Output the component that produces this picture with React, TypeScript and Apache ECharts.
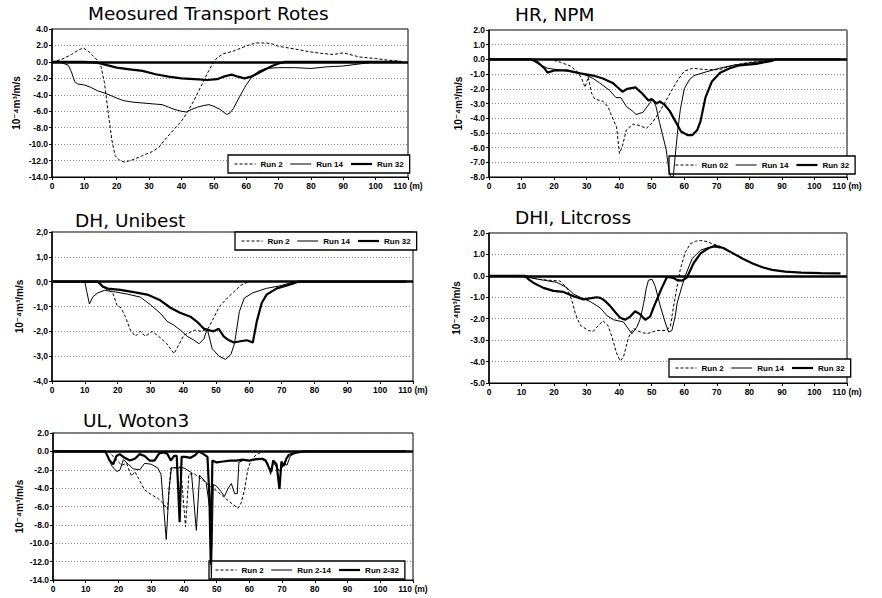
import React, { useEffect, useRef } from "react";
import * as echarts from "echarts";

type Pts = [number, number][];

// ---------- Panel 1: Measured transport rates ----------
const measuredRun2: Pts = [[0,0],[3,0.3],[6,0.9],[8,1.4],[9.7,1.7],[11.5,1.2],[13.5,0.4],[15,-0.3],[16.2,-2.5],[17.3,-6],[18.5,-9.5],[19.5,-11.4],[21,-12.0],[22.5,-12.2],[25,-11.9],[28,-11.4],[31,-10.9],[33,-10.4],[35,-9.4],[37.5,-8.3],[40,-7.2],[42,-6.0],[44,-4.6],[46,-3.0],[48,-1.4],[49.5,-0.3],[51,0.5],[53,1.0],[56,1.3],[58.5,1.7],[60.5,2.0],[63,2.3],[66,2.3],[68,2.2],[70,1.9],[73,1.7],[76,1.5],[80,1.2],[84,1.0],[87,0.9],[90,1.1],[92,0.9],[95,0.6],[100,0.4],[104,0.2],[107,0.1]];
const measuredRun14: Pts = [[0,0],[3,-0.1],[5,-0.4],[6,-1.2],[7,-2.4],[8,-2.7],[10,-2.8],[12,-3.1],[14,-3.5],[17,-3.9],[20,-4.4],[22,-4.7],[25,-4.9],[28,-5.0],[31,-5.1],[34,-5.2],[36,-5.5],[38,-5.8],[40,-6.0],[41.5,-6.1],[43,-5.8],[45,-5.5],[47,-5.3],[48.5,-5.2],[50,-5.4],[52,-5.8],[54,-6.4],[55,-6.2],[56,-5.7],[58,-4.2],[60,-2.8],[62,-1.7],[64,-1.1],[66,-0.8],[70,-0.7],[75,-0.7],[80,-0.8],[85,-0.6],[90,-0.5],[93,-0.35],[97,-0.15],[100,0]];
const measuredRun32: Pts = [[0,0],[5,0],[10,0],[14,-0.1],[17,-0.4],[20,-0.7],[24,-0.9],[28,-1.1],[32,-1.5],[36,-1.8],[40,-2.0],[44,-2.1],[48,-2.2],[51,-2.1],[53,-1.8],[55.5,-1.55],[57.5,-1.8],[59.5,-2.0],[61.5,-1.8],[63.5,-1.4],[66,-0.9],[68,-0.5],[70,-0.2],[72,0],[108,0]];

// ---------- Panel 2: HR, NPM ----------
const npmRun02: Pts = [[0,0],[19,0],[22,-0.2],[25,-0.45],[27,-0.8],[28.5,-1.3],[29.5,-1.9],[30.5,-1.2],[31.5,-2.3],[32.5,-2.7],[35,-2.85],[36.5,-3.2],[38,-4.0],[39.2,-4.6],[40.1,-6.4],[41,-5.9],[42.2,-4.8],[44.3,-4.4],[46.3,-4.5],[48.3,-4.7],[50.2,-4.3],[52.3,-3.6],[54.3,-2.85],[56.4,-2.0],[58,-1.4],[60,-0.8],[62.6,-0.6],[66.7,-0.7],[70.8,-0.7],[75,-0.4],[80,-0.2],[85,-0.1],[88,0]];
const npmRun14: Pts = [[0,0],[13,0],[15,-0.3],[18,-0.6],[21,-0.7],[24,-0.8],[27,-0.9],[29,-1.0],[32,-1.3],[34,-1.6],[37,-2.1],[39,-2.6],[40.5,-2.6],[42.2,-3.2],[44,-3.5],[45.2,-3.75],[47.3,-3.6],[49.3,-3.0],[50.3,-2.7],[51.3,-3.2],[52.4,-4.3],[53.4,-5.2],[54.4,-6.1],[55.2,-7.4],[55.8,-8.0],[56.6,-8.0],[57.2,-6.6],[58,-4.8],[58.8,-3.4],[60,-2.0],[61.5,-1.4],[63,-1.1],[66.7,-0.85],[70.8,-0.6],[75,-0.4],[80,-0.25],[85,-0.1],[88,0]];
const npmRun32: Pts = [[0,0],[13,0],[15,-0.2],[17,-0.6],[18,-0.9],[20,-0.75],[24,-0.75],[28,-0.95],[32,-1.1],[35,-1.3],[38,-1.6],[40,-2.0],[41,-2.2],[42.5,-2.0],[45,-1.9],[47,-2.3],[49,-2.8],[50,-2.7],[51.5,-3.0],[52.5,-2.85],[54,-3.1],[55.5,-3.5],[57.5,-4.3],[59,-4.9],[61,-5.15],[62.5,-5.15],[64,-4.8],[65,-4.2],[66.5,-2.6],[68.5,-1.5],[71,-0.9],[74,-0.6],[77,-0.4],[82,-0.3],[87,-0.1],[88,0],[108,0]];

// ---------- Panel 3: DH, Unibest ----------
const unibestRun2: Pts = [[0,0],[14,0],[16.5,-0.3],[18.5,-0.45],[19.8,-0.95],[21,-1.05],[22.3,-1.4],[23.9,-1.95],[25.4,-2.2],[26.9,-2.0],[28.5,-2.2],[30.5,-2.0],[32.5,-2.2],[35,-2.5],[37.2,-2.9],[40.2,-2.15],[43.5,-1.95],[45.5,-2.0],[47.5,-1.9],[49.5,-1.4],[51,-1.0],[53.5,-0.65],[55.5,-0.4],[57.5,-0.15],[60,0]];
const unibestRun14: Pts = [[0,0],[10,0],[10.6,-0.4],[11.4,-0.9],[12.5,-0.6],[14,-0.45],[16,-0.35],[18.8,-0.4],[22.9,-0.5],[26.9,-0.62],[30,-0.93],[33,-1.27],[35.1,-1.6],[37.1,-1.75],[39.2,-1.96],[41.2,-2.2],[43.2,-2.35],[44.8,-2.5],[46.3,-2.3],[47.3,-1.9],[48.8,-2.7],[50.9,-3.0],[52.9,-3.13],[54.5,-2.93],[55.6,-2.5],[57.1,-1.2],[58.6,-0.66],[61.2,-0.45],[65.3,-0.27],[69.4,-0.17],[74,0]];
const unibestRun32: Pts = [[0,0],[14,0],[15.5,-0.2],[17,-0.28],[20.8,-0.33],[24.9,-0.42],[29,-0.52],[33,-0.75],[36.1,-1.05],[39,-1.25],[42.2,-1.41],[44.5,-1.65],[46.3,-1.9],[48.3,-1.97],[49.3,-2.0],[50.8,-1.9],[52.3,-2.2],[53.8,-2.35],[55.4,-2.45],[57.4,-2.4],[59.4,-2.36],[61.2,-2.45],[62.4,-1.6],[63.9,-0.86],[65.4,-0.52],[68.5,-0.27],[72.6,-0.11],[75,0],[108,0]];

// ---------- Panel 4: DHI, Litcross ----------
const litcrossRun2: Pts = [[0,0],[12,-0.05],[15,-0.15],[18,-0.2],[21.8,-0.24],[23.9,-0.56],[25.4,-1.1],[26.5,-1.75],[28,-2.3],[30.6,-2.55],[32,-2.6],[33.1,-2.4],[35,-2.1],[36.5,-2.3],[37.8,-2.86],[39.3,-3.65],[40.3,-3.97],[41.3,-3.8],[42.9,-2.86],[44.4,-2.46],[46.5,-2.62],[48.5,-2.7],[51.6,-2.55],[54.2,-2.55],[55.7,-2.38],[56.7,-1.43],[57.8,-0.48],[58.8,0.32],[60.3,1.1],[61.9,1.5],[63.5,1.62],[65,1.65],[67,1.6],[68.5,1.5],[70.6,1.4],[73,1.25]];
const litcrossRun14: Pts = [[0,0],[11.6,0],[13,-0.1],[16.7,-0.2],[20.8,-0.3],[23.9,-0.55],[26,-0.85],[28,-1.0],[31.1,-1.2],[34.2,-1.5],[36.2,-1.85],[38.3,-2.05],[41.3,-2.15],[43.9,-2.7],[45.4,-2.4],[46.5,-2.0],[47.5,-1.3],[48.3,-0.6],[49,-0.2],[50.1,-0.16],[51.1,-0.5],[52.6,-1.4],[54.2,-2.2],[55.2,-2.62],[56.2,-2.55],[57.2,-1.9],[57.8,-1.27],[59.3,-0.48],[60.3,0],[62.4,0.8],[65,1.2],[67,1.3],[69,1.35],[71,1.3]];
const litcrossRun32: Pts = [[0,0],[11,0],[12.5,-0.2],[13.6,-0.32],[16.7,-0.56],[19.8,-0.7],[22.9,-0.75],[26,-0.95],[29,-1.1],[31,-1.05],[33,-1.0],[34.2,-1.03],[35.5,-1.15],[37.2,-1.4],[38.8,-1.7],[40.3,-1.95],[41.8,-2.05],[43.4,-1.9],[44.9,-1.65],[46.5,-1.8],[48,-2.05],[49.5,-1.9],[50.5,-1.5],[51.6,-1.1],[53.1,-0.56],[54.7,-0.05],[56.7,-0.1],[57.8,-0.2],[59.3,-0.22],[60.8,-0.08],[62.9,0.6],[65,1.05],[67.5,1.3],[69.5,1.4],[72,1.3],[75,1.05],[78,0.8],[81,0.58],[84,0.4],[87,0.28],[91,0.2],[96,0.15],[102,0.13],[108,0.12]];

// ---------- Panel 5: UL, Woton3 ----------
const wotonRun2: Pts = [[0,0],[17,0],[19,-0.8],[21,-1.5],[22.5,-1.3],[24,-2.7],[25,-2.2],[26.5,-3.2],[28,-4.2],[30,-4.7],[32,-5.1],[33.5,-5.6],[35,-6.3],[36,-1.8],[39,-1.7],[40.5,-8.2],[41.5,-2.5],[43,-2.4],[44.5,-2.8],[46,-3.2],[48,-3.8],[50,-4.3],[52,-4.9],[54,-5.5],[56.5,-6.2],[57.5,-5.6],[58.5,-4.2],[59.5,-2.0],[60.5,-1.0],[62,-0.4],[64,0]];
const wotonRun214: Pts = [[0,0],[16,0],[17,-0.8],[18,-1.6],[19.5,-2.2],[20.5,-2.0],[21.5,-0.9],[23,-1.4],[24.5,-1.9],[26.5,-2.0],[28,-1.3],[30,-1.4],[32,-1.8],[33,-2.5],[34.6,-9.6],[35.5,-4],[36.2,-1.8],[40,-1.8],[42.3,-2.3],[43.8,-8.6],[44.8,-2.6],[46.8,-3.4],[47.8,-6],[48.4,-13.8],[49,-3.6],[50,-3.8],[51.4,-4.4],[52.4,-4.9],[53.4,-4.1],[54.5,-3.5],[55.5,-4.6],[56.3,-4.6],[56.8,-1.2],[58,-1.0],[60,-1.0],[62,-0.9],[64,-0.9],[65.5,-1.2],[66.5,-2.5],[67.3,-1.2],[68.5,-1.8],[69.5,-2.2],[70.5,-1.3],[71.5,-1.5],[72.5,-0.5],[74,-0.2],[76,0]];
const wotonRun232: Pts = [[0,0],[16,0],[17.3,-1.0],[18.4,-1.4],[19.4,-0.5],[20.4,-0.3],[21.9,-0.7],[23.5,-1.0],[25,-0.8],[26.5,-0.3],[28,-0.5],[29.5,-1.0],[31,-1.0],[32.5,-0.2],[34,-0.1],[35,-0.3],[36,-1.0],[37,-0.5],[37.8,-0.5],[38.7,-7.7],[39.3,-0.6],[40.5,-0.6],[42,-0.7],[43.5,-0.4],[44.5,0],[46,-0.3],[47.2,-0.6],[47.8,-5],[48.2,-12.3],[48.7,-1.0],[50,-1.2],[52,-1.1],[54,-1.0],[56,-1.0],[58,-0.9],[60,-1.0],[62,-0.85],[64,-0.8],[65,-1.0],[66,-1.8],[66.7,-2.2],[67.3,-1.0],[68.3,-1.4],[69.2,-4.1],[69.8,-1.1],[70.5,-1.6],[71.3,-0.8],[72,-0.4],[74,-0.15],[77,0],[108,0]];

const panelTitles = ["Meosured Transport Rotes", "HR, NPM", "DH, Unibest", "DHI, Litcross", "UL, Woton3"];
const legendNames = [
  ["Run 2", "Run 14", "Run 32"],
  ["Run 02", "Run 14", "Run 32"],
  ["Run 2", "Run 14", "Run 32"],
  ["Run 2", "Run 14", "Run 32"],
  ["Run 2", "Run 2-14", "Run 2-32"],
];
const panelData: Pts[][] = [
  [measuredRun2, measuredRun14, measuredRun32],
  [npmRun02, npmRun14, npmRun32],
  [unibestRun2, unibestRun14, unibestRun32],
  [litcrossRun2, litcrossRun14, litcrossRun32],
  [wotonRun2, wotonRun214, wotonRun232],
];
const yRanges = [
  [-14, 4, 2],
  [-8, 2, 1],
  [-4, 2, 1],
  [-5, 2, 1],
  [-14, 2, 2],
];
const yAxisName = "10\u207B\u2074m\u00B3/m/s";

// layout (pixels)
const layout = [
  { grid: [52, 29, 356, 148], title: [88, 4], legend: [228, 155], gap: 31, comma: false },
  { grid: [489, 30, 358, 147], title: [515, 5], legend: [669, 156], gap: 26, comma: false },
  { grid: [52, 232, 361, 149], title: [75, 211], legend: [235, 232], gap: 28, comma: true },
  { grid: [489, 233, 358, 150], title: [515, 208], legend: [669, 359], gap: 28, comma: false },
  { grid: [53, 433, 360, 147], title: [83, 411], legend: [209, 561], gap: 29, comma: false },
];

const FONT = "'Liberation Sans', Arial, 'DejaVu Sans', sans-serif";
const lineStyles: any[] = [
  { color: "#000", width: 1, type: [3, 2] },
  { color: "#000", width: 1, type: "solid" },
  { color: "#000", width: 2.2, type: "solid" },
];

export default function App() {
  const ref = useRef<HTMLDivElement>(null);
  useEffect(() => {
    if (!ref.current) return;
    const chart = echarts.init(ref.current, undefined, { renderer: "svg" });
    const grids: any[] = [];
    const xAxes: any[] = [];
    const yAxes: any[] = [];
    const titles: any[] = [];
    const legends: any[] = [];
    const series: any[] = [];
    layout.forEach((L, i) => {
      const [l, t, w, h] = L.grid;
      grids.push({ left: l, top: t, width: w, height: h, show: true, borderColor: "#000", borderWidth: 1, backgroundColor: "transparent" });
      xAxes.push({
        type: "value", gridIndex: i, min: 0, max: 110, interval: 10,
        axisLine: { onZero: false, lineStyle: { color: "#000", width: 1 } },
        axisTick: { show: true, length: 3, lineStyle: { color: "#000" } },
        splitLine: { show: false },
        axisLabel: {
          color: "#000", fontSize: 8.5, fontWeight: "bold", fontFamily: FONT, margin: 4,
          showMaxLabel: true, showMinLabel: true, hideOverlap: false,
          formatter: (v: number) => (v === 110 ? "110 (m)" : String(v)),
        },
      });
      const [ymin, ymax, step] = yRanges[i];
      yAxes.push({
        type: "value", gridIndex: i, min: ymin, max: ymax, interval: step,
        name: yAxisName, nameLocation: "middle", nameRotate: 90, nameGap: L.gap,
        nameTextStyle: { color: "#000", fontSize: 10, fontWeight: "bold", fontFamily: FONT },
        axisLine: { show: true, lineStyle: { color: "#000", width: 1.5 } },
        axisTick: { show: true, length: 3, lineStyle: { color: "#000" } },
        splitLine: { show: true, lineStyle: { color: "#8a8a8a", width: 1, type: [1, 2] } },
        axisLabel: {
          color: "#000", fontSize: 8.5, fontWeight: "bold", fontFamily: FONT, margin: 4,
          formatter: (v: number) => (L.comma ? v.toFixed(1).replace(".", ",") : v.toFixed(1)),
        },
      });
      titles.push({
        text: panelTitles[i], left: L.title[0], top: L.title[1], padding: 0,
        textStyle: { fontFamily: "'DejaVu Sans', sans-serif", fontSize: 18.5, fontWeight: "normal", color: "#000" },
      });
      legends.push({
        data: legendNames[i],
        left: L.legend[0], top: L.legend[1], selectedMode: false,
        orient: "horizontal", itemWidth: 21, itemHeight: 9, itemGap: 7, padding: [5, 6],
        borderColor: "#000", borderWidth: 1.3, backgroundColor: "#fff",
        itemStyle: { opacity: 0 },
        lineStyle: { width: "inherit", type: "inherit", color: "#000" },
        textStyle: { fontSize: 8, fontWeight: "bold", fontFamily: FONT, color: "#000" },
      });
      panelData[i].forEach((pts, k) => {
        const s: any = {
          type: "line", name: legendNames[i][k], xAxisIndex: i, yAxisIndex: i,
          data: pts, symbol: "none", showSymbol: false, smooth: false,
          lineStyle: lineStyles[k], itemStyle: { color: "#000" }, z: 3 + k,
        };
        if (k === 0) {
          s.markLine = {
            silent: true, symbol: "none", label: { show: false },
            lineStyle: { color: "#000", width: 2.5, type: "solid" },
            data: [{ yAxis: 0 }],
          };
        }
        series.push(s);
      });
    });
    chart.setOption({
      animation: false,
      backgroundColor: "#fff",
      title: titles,
      legend: legends,
      grid: grids,
      xAxis: xAxes,
      yAxis: yAxes,
      series,
    });
    return () => chart.dispose();
  }, []);
  return <div ref={ref} style={{ position: "absolute", left: 0, top: 0, width: 882, height: 598 }} />;
}
